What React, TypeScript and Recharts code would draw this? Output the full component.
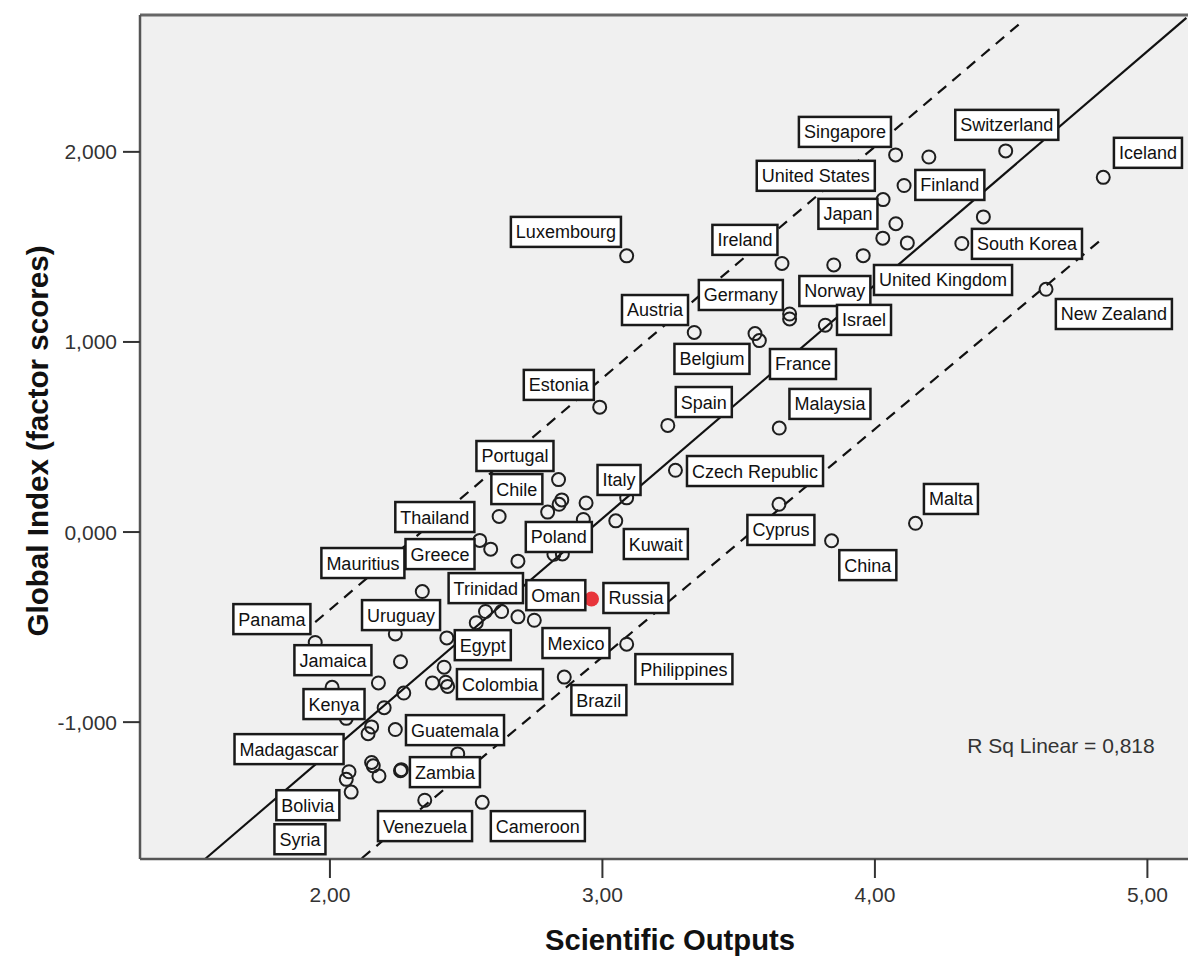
import { ScatterChart, Scatter, XAxis, YAxis, CartesianGrid, ReferenceLine } from 'recharts'

const FONT = '"Liberation Sans", Arial, sans-serif'

const xTicks = [2, 3, 4, 5]
const yTicks = [-1, 0, 1, 2]
const xDomain = [1.303, 5.149]
const yDomain = [-1.72, 2.72]

// countries drawn as open circles (Scientific Outputs, Global Index)
const circles = [
  { x: 4.076, y: 1.984 }, { x: 4.198, y: 1.973 }, { x: 4.48, y: 2.005 }, { x: 4.838, y: 1.866 },
  { x: 4.107, y: 1.823 }, { x: 4.03, y: 1.749 }, { x: 4.077, y: 1.622 }, { x: 4.398, y: 1.658 },
  { x: 4.029, y: 1.546 }, { x: 4.119, y: 1.521 }, { x: 4.319, y: 1.518 }, { x: 3.957, y: 1.454 },
  { x: 3.849, y: 1.405 }, { x: 3.659, y: 1.413 }, { x: 4.628, y: 1.277 }, { x: 3.687, y: 1.147 },
  { x: 3.687, y: 1.121 }, { x: 3.818, y: 1.088 }, { x: 3.337, y: 1.05 }, { x: 3.56, y: 1.044 },
  { x: 3.576, y: 1.007 }, { x: 3.089, y: 1.453 },
  { x: 3.24, y: 0.561 }, { x: 3.649, y: 0.547 }, { x: 3.268, y: 0.325 }, { x: 3.648, y: 0.146 },
  { x: 3.841, y: -0.046 }, { x: 4.149, y: 0.046 }, { x: 2.99, y: 0.657 }, { x: 2.839, y: 0.276 },
  { x: 2.851, y: 0.169 }, { x: 2.841, y: 0.146 }, { x: 2.799, y: 0.105 }, { x: 2.94, y: 0.153 },
  { x: 2.621, y: 0.082 }, { x: 2.93, y: 0.066 }, { x: 3.049, y: 0.059 }, { x: 3.089, y: 0.18 },
  { x: 2.55, y: -0.044 }, { x: 2.59, y: -0.09 }, { x: 2.69, y: -0.153 }, { x: 2.822, y: -0.117 },
  { x: 2.853, y: -0.115 }, { x: 2.339, y: -0.313 },
  { x: 2.571, y: -0.418 }, { x: 2.63, y: -0.418 }, { x: 2.69, y: -0.446 }, { x: 2.75, y: -0.464 },
  { x: 2.537, y: -0.477 },
  { x: 2.24, y: -0.536 }, { x: 1.946, y: -0.581 }, { x: 2.429, y: -0.557 }, { x: 3.089, y: -0.59 },
  { x: 2.259, y: -0.682 }, { x: 2.419, y: -0.711 }, { x: 2.376, y: -0.794 }, { x: 2.425, y: -0.79 },
  { x: 2.432, y: -0.812 }, { x: 2.178, y: -0.794 }, { x: 2.271, y: -0.847 }, { x: 2.86, y: -0.763 },
  { x: 2.008, y: -0.817 }, { x: 2.06, y: -0.98 }, { x: 2.199, y: -0.924 }, { x: 2.153, y: -1.025 },
  { x: 2.14, y: -1.061 }, { x: 2.24, y: -1.039 }, { x: 2.469, y: -1.167 }, { x: 2.153, y: -1.212 },
  { x: 2.159, y: -1.23 }, { x: 2.18, y: -1.283 }, { x: 2.259, y: -1.256 }, { x: 2.262, y: -1.25 },
  { x: 2.07, y: -1.261 }, { x: 2.06, y: -1.301 }, { x: 2.078, y: -1.368 }, { x: 2.348, y: -1.411 },
  { x: 2.559, y: -1.422 },
]

const highlighted = [{ x: 2.96, y: -0.352 }]

// label boxes, placed at their centres
const labels = [
  { name: 'Luxembourg', x: 2.866, y: 1.579 },
  { name: 'Singapore', x: 3.89, y: 2.105 },
  { name: 'Switzerland', x: 4.484, y: 2.142 },
  { name: 'Iceland', x: 5.002, y: 1.995 },
  { name: 'United States', x: 3.783, y: 1.874 },
  { name: 'Finland', x: 4.275, y: 1.826 },
  { name: 'Japan', x: 3.901, y: 1.674 },
  { name: 'Ireland', x: 3.523, y: 1.537 },
  { name: 'South Korea', x: 4.558, y: 1.516 },
  { name: 'United Kingdom', x: 4.25, y: 1.326 },
  { name: 'Germany', x: 3.508, y: 1.247 },
  { name: 'Norway', x: 3.853, y: 1.268 },
  { name: 'New Zealand', x: 4.877, y: 1.147 },
  { name: 'Israel', x: 3.96, y: 1.116 },
  { name: 'Austria', x: 3.193, y: 1.168 },
  { name: 'Belgium', x: 3.402, y: 0.911 },
  { name: 'France', x: 3.736, y: 0.884 },
  { name: 'Spain', x: 3.372, y: 0.684 },
  { name: 'Malaysia', x: 3.835, y: 0.674 },
  { name: 'Czech Republic', x: 3.56, y: 0.321 },
  { name: 'Malta', x: 4.279, y: 0.174 },
  { name: 'Cyprus', x: 3.655, y: 0.011 },
  { name: 'China', x: 3.974, y: -0.174 },
  { name: 'Kuwait', x: 3.196, y: -0.063 },
  { name: 'Russia', x: 3.123, y: -0.347 },
  { name: 'Estonia', x: 2.84, y: 0.774 },
  { name: 'Portugal', x: 2.679, y: 0.4 },
  { name: 'Chile', x: 2.686, y: 0.226 },
  { name: 'Italy', x: 3.061, y: 0.274 },
  { name: 'Thailand', x: 2.385, y: 0.079 },
  { name: 'Greece', x: 2.404, y: -0.116 },
  { name: 'Mauritius', x: 2.121, y: -0.163 },
  { name: 'Poland', x: 2.84, y: -0.026 },
  { name: 'Trinidad', x: 2.572, y: -0.295 },
  { name: 'Oman', x: 2.829, y: -0.332 },
  { name: 'Panama', x: 1.787, y: -0.458 },
  { name: 'Uruguay', x: 2.261, y: -0.437 },
  { name: 'Jamaica', x: 2.011, y: -0.674 },
  { name: 'Egypt', x: 2.561, y: -0.595 },
  { name: 'Mexico', x: 2.903, y: -0.584 },
  { name: 'Philippines', x: 3.299, y: -0.721 },
  { name: 'Colombia', x: 2.624, y: -0.8 },
  { name: 'Kenya', x: 2.015, y: -0.905 },
  { name: 'Brazil', x: 2.987, y: -0.884 },
  { name: 'Guatemala', x: 2.459, y: -1.042 },
  { name: 'Madagascar', x: 1.85, y: -1.142 },
  { name: 'Zambia', x: 2.422, y: -1.263 },
  { name: 'Bolivia', x: 1.919, y: -1.437 },
  { name: 'Venezuela', x: 2.349, y: -1.547 },
  { name: 'Cameroon', x: 2.763, y: -1.547 },
  { name: 'Syria', x: 1.89, y: -1.616 },
]

const fitLine = [{ x: 1.542, y: -1.72 }, { x: 5.143, y: 2.705 }]
const upperBand = [{ x: 1.946, y: -0.474 }, { x: 4.54, y: 2.685 }]
const lowerBand = [{ x: 2.117, y: -1.716 }, { x: 4.838, y: 1.547 }]

let ctx: CanvasRenderingContext2D | null = null
function textWidth(s: string) {
  if (!ctx) ctx = document.createElement('canvas').getContext('2d')
  if (!ctx) return s.length * 9
  ctx.font = '18px "Liberation Sans"'
  return ctx.measureText(s).width
}

function Ring(props: any) {
  return <circle cx={props.cx} cy={props.cy} r={6.5} fill="none" stroke="#1e1e1e" strokeWidth={2} />
}

function RedDot(props: any) {
  return <circle cx={props.cx} cy={props.cy} r={7.5} fill="#e8353b" />
}

function LabelBox(props: any) {
  const { cx, cy, payload } = props
  const w = textWidth(payload.name) + 10
  const h = 30
  return (
    <g>
      <rect x={cx - w / 2} y={cy - h / 2} width={w} height={h} fill="#fff" stroke="#1a1a1a" strokeWidth={2.5} />
      <text x={cx} y={cy} dy="0.36em" textAnchor="middle" fontSize={18} fontFamily={FONT} fill="#111">
        {payload.name}
      </text>
    </g>
  )
}

const fmtX = (v: number) => v.toFixed(2).replace('.', ',')
const fmtY = (v: number) => v.toFixed(3).replace('.', ',')

export default function App() {
  return (
    <div style={{ position: 'absolute', left: 0, top: 0, width: 1188, height: 958, background: '#fff' }}>
      <ScatterChart width={1188} height={958} margin={{ top: 15, right: 0, bottom: 0, left: 0 }}>
        <CartesianGrid fill="#f0f0f0" horizontal={false} vertical={false} />
        <XAxis
          type="number"
          dataKey="x"
          domain={xDomain}
          ticks={xTicks}
          allowDataOverflow
          height={99}
          tickSize={19}
          tickMargin={9}
          tickFormatter={fmtX}
          axisLine={{ stroke: '#555', strokeWidth: 2.5 }}
          tickLine={{ stroke: '#333', strokeWidth: 2 }}
          tick={{ fill: '#333', fontSize: 21, fontFamily: FONT }}
        />
        <YAxis
          type="number"
          dataKey="y"
          domain={yDomain}
          ticks={yTicks}
          allowDataOverflow
          width={140}
          tickSize={17}
          tickMargin={6}
          tickFormatter={fmtY}
          axisLine={{ stroke: '#555', strokeWidth: 2.5 }}
          tickLine={{ stroke: '#333', strokeWidth: 2 }}
          tick={{ fill: '#333', fontSize: 21, fontFamily: FONT }}
        />
        <ReferenceLine y={yDomain[1]} stroke="#666" strokeWidth={3} />
        <Scatter data={circles} shape={Ring} isAnimationActive={false} />
        <Scatter data={highlighted} shape={RedDot} isAnimationActive={false} />
        <Scatter data={labels} shape={LabelBox} isAnimationActive={false} />
        <ReferenceLine segment={fitLine} stroke="#111" strokeWidth={2.2} />
        <ReferenceLine segment={upperBand} stroke="#111" strokeWidth={2.2} strokeDasharray="11 8" />
        <ReferenceLine segment={lowerBand} stroke="#111" strokeWidth={2.2} strokeDasharray="11 8" />
      </ScatterChart>
      <svg width={1188} height={958} style={{ position: 'absolute', left: 0, top: 0, pointerEvents: 'none' }}>
        <text x={1061} y={745} dy="0.36em" textAnchor="middle" fontSize={21} fontFamily={FONT} fill="#333">
          R Sq Linear = 0,818
        </text>
        <text x={670} y={950} textAnchor="middle" fontSize={29} fontWeight="bold" fontFamily={FONT} fill="#111" textLength={250} lengthAdjust="spacingAndGlyphs">
          Scientific Outputs
        </text>
        <text x={48} y={441} textAnchor="middle" fontSize={30} fontWeight="bold" fontFamily={FONT} fill="#111" transform="rotate(-90 48 441)" textLength={391} lengthAdjust="spacingAndGlyphs">
          Global Index (factor scores)
        </text>
      </svg>
    </div>
  )
}
